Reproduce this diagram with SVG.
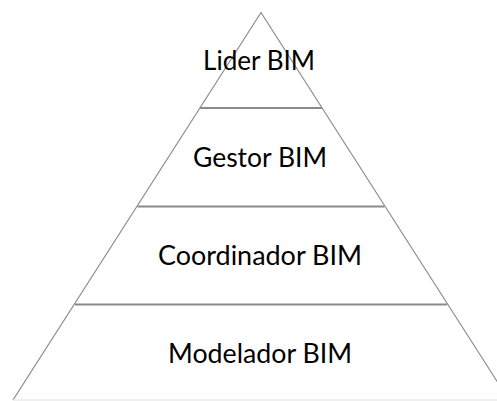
<svg xmlns="http://www.w3.org/2000/svg" width="497" height="401" viewBox="0 0 497 401">
  <style>
    .side { fill: none; stroke: #8a8a8a; stroke-width: 1.2; }
    .tier { fill: none; stroke: #8a8a8a; stroke-width: 1.8; }
    .base { fill: none; stroke: #e2e2e2; stroke-width: 1; }
    .label { font-family: Lato, "Liberation Sans", sans-serif; font-size: 27px; fill: #000000; text-anchor: middle; }
  </style>
  <rect width="497" height="401" fill="#ffffff"/>
  <!-- pyramid outline and tier dividers -->
  <g id="connectors">
    <polyline class="side" points="13,400 261,12.5 509,400"/>
    <line class="base" x1="13" y1="400" x2="497" y2="400"/>
    <line class="tier" x1="200" y1="108" x2="322" y2="108"/>
    <line class="tier" x1="137.5" y1="206.5" x2="384.5" y2="206.5"/>
    <line class="tier" x1="75" y1="304.5" x2="447" y2="304.5"/>
  </g>
  <g id="lider">
    <text class="label" x="259" y="70" textLength="112" lengthAdjust="spacingAndGlyphs">Lider BIM</text>
  </g>
  <g id="gestor">
    <text class="label" x="260" y="167" textLength="134" lengthAdjust="spacingAndGlyphs">Gestor BIM</text>
  </g>
  <g id="coordinador">
    <text class="label" x="260" y="265" textLength="204" lengthAdjust="spacingAndGlyphs">Coordinador BIM</text>
  </g>
  <g id="modelador">
    <text class="label" x="260" y="363" textLength="184" lengthAdjust="spacingAndGlyphs">Modelador BIM</text>
  </g>
</svg>
